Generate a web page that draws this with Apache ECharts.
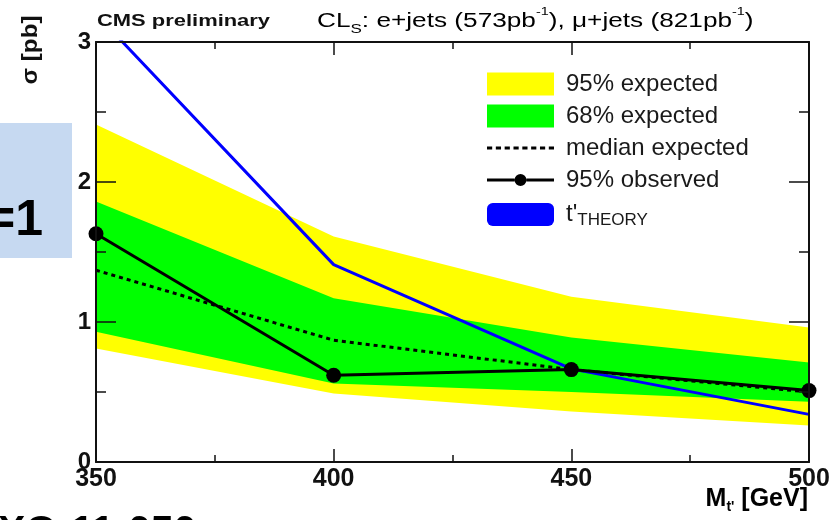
<!DOCTYPE html>
<html><head><meta charset="utf-8">
<script src="https://cdn.jsdelivr.net/npm/echarts@6/dist/echarts.min.js"></script>
<style>html,body{margin:0;padding:0;background:#fff}#c{width:837px;height:520px}</style>
</head><body><div id="c"></div>
<script>
// ---- data ----
const masses = [350, 400, 450, 500];               // M_t' [GeV]
const exp95Low  = [0.81, 0.49, 0.36, 0.26];
const exp95High = [2.41, 1.61, 1.18, 0.96];
const exp68Low  = [0.93, 0.56, 0.50, 0.43];
const exp68High = [1.86, 1.17, 0.89, 0.71];
const medianExpected = [1.37, 0.87, 0.66, 0.50];
const observed95 = [1.63, 0.62, 0.66, 0.51];
const theory = [3.2, 1.41, 0.665, 0.34];
const seriesNames = ['95% expected', '68% expected', 'median expected', '95% observed', "t'THEORY"];

const FONT = '"Liberation Sans", Arial, Helvetica, sans-serif';
const pairs = (arr) => masses.map((m, i) => [m, arr[i]]);

const axisLineStyle = {color: '#111', width: 2};
function xAx(pos, show) {
  return {
    type: 'value', min: 350, max: 500, interval: 50, position: pos, z: 10,
    axisLine: {show: true, onZero: false, lineStyle: axisLineStyle},
    axisTick: {show: true, inside: true, length: 13, lineStyle: {color: '#111', width: 1.5}},
    minorTick: {show: true, splitNumber: 2, length: 7, lineStyle: {color: '#111', width: 1.5}},
    splitLine: {show: false}, minorSplitLine: {show: false},
    axisLabel: {show: show, fontSize: 25, fontWeight: 'bold', color: '#111', margin: 5, fontFamily: FONT,
      showMinLabel: true, showMaxLabel: true}
  };
}
function yAx(pos, show) {
  return {
    type: 'value', min: 0, max: 3, interval: 1, position: pos, z: 10,
    axisLine: {show: true, onZero: false, lineStyle: axisLineStyle},
    axisTick: {show: true, inside: true, length: 20, lineStyle: {color: '#111', width: 1.5}},
    minorTick: {show: true, splitNumber: 2, length: 10, lineStyle: {color: '#111', width: 1.5}},
    splitLine: {show: false}, minorSplitLine: {show: false},
    axisLabel: {show: show, fontSize: 24, fontWeight: 'bold', color: '#111', margin: 5, fontFamily: FONT,
      showMinLabel: true, showMaxLabel: true}
  };
}

function bandSeries(name, lo, hi, color, z) {
  return {
    name: name, type: 'custom', z: z, silent: true, color: color, itemStyle: {color: color},
    data: masses.map((m, i) => [m, lo[i], hi[i]]),
    encode: {x: 0, y: [1, 2]},
    renderItem: function (params, api) {
      if (params.dataIndexInside !== 0) return null;
      const n = masses.length;
      const top = [], bot = [];
      for (let i = 0; i < n; i++) {
        top.push(api.coord([api.value(0, i), api.value(2, i)]));
        bot.push(api.coord([api.value(0, i), api.value(1, i)]));
      }
      const cs = params.coordSys;
      return {
        type: 'polygon',
        shape: {points: top.concat(bot.reverse())},
        style: {fill: color, stroke: null},
        clipPath: {type: 'rect', shape: {x: cs.x, y: cs.y, width: cs.width, height: cs.height}}
      };
    }
  };
}

// legend icons (drawn in legend box only)
let dots = '';
for (let i = 0; i < 8; i++) dots += 'M' + (i * 8.5) + ',0h5v3h-5z';
const dottedIcon = 'path://' + dots;
const obsIcon = 'path://M0,8.5h27.5v3h-27.5zM39.5,8.5h27.5v3h-27.5zM27.5,10A6,6 0 1,0 39.5,10A6,6 0 1,0 27.5,10Z';

const chart = echarts.init(document.getElementById('c'), null, {renderer: 'canvas'});
chart.setOption({
  animation: false,
  backgroundColor: '#fff',
  grid: {left: 96, right: 28, top: 42, bottom: 58, containLabel: false},
  xAxis: [xAx('bottom', true), xAx('top', false)],
  yAxis: [yAx('left', true), yAx('right', false)],
  legend: {
    orient: 'vertical', left: 487, top: 72, padding: 0,
    itemWidth: 67, itemHeight: 23, itemGap: 8, selectedMode: false,
    textStyle: {fontSize: 24, color: '#1a1a1a', fontFamily: FONT, lineHeight: 23, padding: [0, 0, 0, 7],
      rich: {
        n: {fontSize: 24, fontFamily: FONT, color: '#1a1a1a', lineHeight: 23},
        sub: {fontSize: 17, fontFamily: FONT, color: '#1a1a1a', padding: [12, 0, 0, 0], lineHeight: 23}
      }},
    formatter: (n) => n === seriesNames[4] ? "{n|t'}{sub|THEORY}" : n,
    data: [
      {name: seriesNames[0], icon: 'rect'},
      {name: seriesNames[1], icon: 'rect'},
      {name: seriesNames[2], icon: dottedIcon},
      {name: seriesNames[3], icon: obsIcon},
      {name: seriesNames[4], icon: 'roundRect'}
    ]
  },
  series: [
    bandSeries(seriesNames[0], exp95Low, exp95High, '#ffff00', 1),
    bandSeries(seriesNames[1], exp68Low, exp68High, '#00ff00', 2),
    {name: seriesNames[2], type: 'line', data: pairs(medianExpected), symbol: 'none', color: '#000',
      itemStyle: {color: '#000'}, lineStyle: {color: '#000', width: 3, type: [4, 4]}, z: 3},
    {name: seriesNames[4], type: 'line', data: pairs(theory), symbol: 'none', color: '#0000ff',
      itemStyle: {color: '#0000ff'}, lineStyle: {color: '#0000ff', width: 3}, clip: true, z: 4},
    {name: seriesNames[3], type: 'line', data: pairs(observed95), symbol: 'circle', symbolSize: 15,
      color: '#000', itemStyle: {color: '#000', borderWidth: 0}, lineStyle: {color: '#000', width: 3}, z: 5}
  ],
  graphic: [
    {type: 'rect', left: 0, top: 123, shape: {width: 72, height: 135}, style: {fill: '#c6d9f1'}, z: 0},
    {type: 'text', x: 43, y: 221, style: {text: '=1', font: 'bold 50px ' + FONT, fill: '#000',
      align: 'right', textAlign: 'right', verticalAlign: 'middle', textVerticalAlign: 'middle'}},
    {type: 'text', x: -2, y: 533, style: {text: 'XO-11-050', font: 'bold 41px ' + FONT, fill: '#000',
      align: 'left', textAlign: 'left', verticalAlign: 'middle', textVerticalAlign: 'middle'}},
    {type: 'text', x: 97, y: 21, scaleX: 1.29, style: {text: 'CMS preliminary', font: 'bold 17px ' + FONT, fill: '#111',
      align: 'left', textAlign: 'left', verticalAlign: 'middle', textVerticalAlign: 'middle'}},
    {type: 'text', x: 317, y: 21, scaleX: 1.31, style: {
      text: '{n|CL}{sub|S}{n|: e+jets (573pb}{sup|-1}{n|), μ+jets (821pb}{sup|-1}{n|)}',
      align: 'left', textAlign: 'left', verticalAlign: 'middle', textVerticalAlign: 'middle',
      rich: {
        n: {fontSize: 20, fontFamily: FONT, color: '#222', lineHeight: 30},
        sub: {fontSize: 13, fontFamily: FONT, color: '#222', lineHeight: 14, verticalAlign: 'bottom'},
        sup: {fontSize: 11, fontFamily: FONT, color: '#222', lineHeight: 13, verticalAlign: 'top'}
      }}},
    {type: 'text', x: 31, y: 50, rotation: Math.PI / 2, scaleX: 1.1, style: {text: 'σ [pb]', font: 'bold 22px ' + FONT, fill: '#111',
      align: 'center', textAlign: 'center', verticalAlign: 'middle', textVerticalAlign: 'middle'}},
    {type: 'text', x: 808, y: 499, style: {
      text: "{b|M}{s|t'}{b| [GeV]}",
      align: 'right', textAlign: 'right', verticalAlign: 'middle', textVerticalAlign: 'middle',
      rich: {
        b: {fontSize: 25, fontWeight: 'bold', fontFamily: FONT, color: '#111', lineHeight: 30},
        s: {fontSize: 14, fontWeight: 'bold', fontFamily: FONT, color: '#111', lineHeight: 16, verticalAlign: 'bottom'}
      }}}
  ]
});
</script>
</body></html>
